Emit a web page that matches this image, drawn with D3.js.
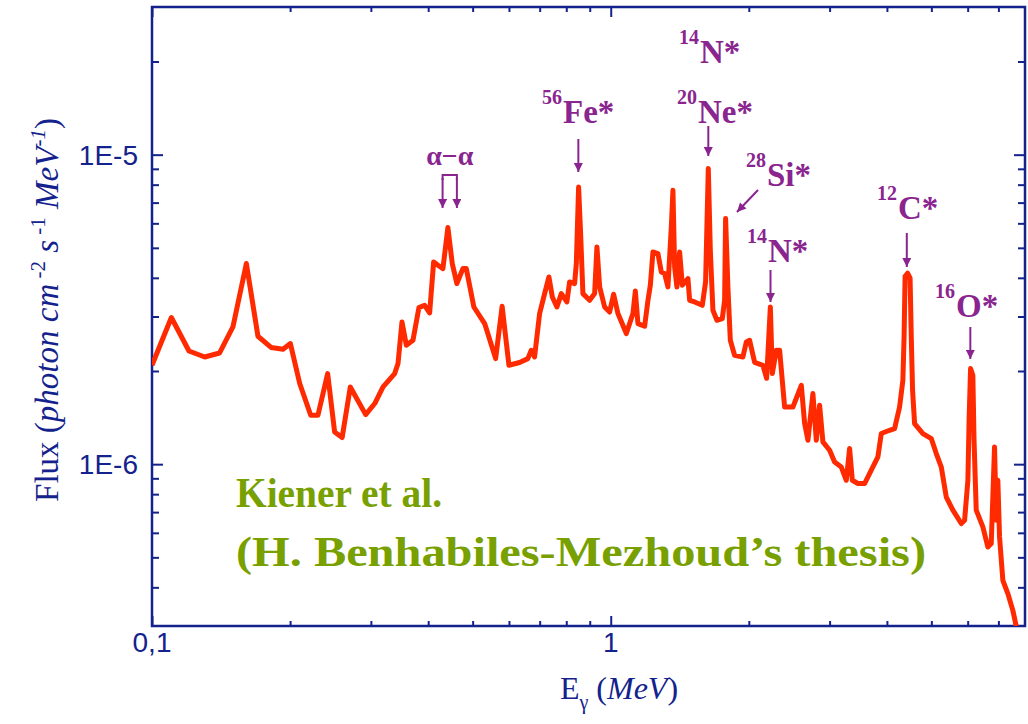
<!DOCTYPE html>
<html>
<head>
<meta charset="utf-8">
<script src="https://cdn.jsdelivr.net/npm/d3@7"></script>
<style>
  html, body { margin: 0; padding: 0; background: #ffffff; }
  svg { display: block; }
</style>
</head>
<body>
<svg id="chart" width="1028" height="724"></svg>
<script>
// Gamma-ray energy (MeV) of each sample of the spectrum
const energyMeV = [
  0.100, 0.1102, 0.1204, 0.1303, 0.1404, 0.1501, 0.1606, 0.1702, 0.1820, 0.1930,
  0.2003, 0.2099, 0.2218, 0.2300, 0.2415, 0.2501, 0.2597, 0.2706, 0.2923, 0.3059,
  0.3189, 0.3381, 0.3438, 0.3507, 0.3585, 0.3706, 0.3818, 0.3929, 0.4029, 0.4111,
  0.4201, 0.4307, 0.4416, 0.4514, 0.4620, 0.4761, 0.4843, 0.5031, 0.5311, 0.5612,
  0.5798, 0.5999, 0.6328, 0.6597, 0.6711, 0.6823, 0.6998, 0.7176, 0.7333, 0.7459,
  0.7633, 0.7803, 0.8025, 0.8135, 0.8342, 0.8414, 0.8511, 0.8597, 0.8697, 0.8995,
  0.9224, 0.9331, 0.9459, 0.9699, 0.9945, 1.0146, 1.0368, 1.0815, 1.1180, 1.1315,
  1.1464, 1.1856, 1.2055, 1.2200, 1.2359, 1.2673, 1.2891, 1.3107, 1.3326, 1.3555,
  1.3665, 1.3782, 1.3941, 1.4132, 1.4325, 1.4734, 1.4860, 1.5238, 1.5834, 1.6099,
  1.6319, 1.6485, 1.6703, 1.7041, 1.7507, 1.7713, 1.7800, 1.8006, 1.8227, 1.8621,
  1.9414, 1.9748, 2.0079, 2.0589, 2.1466, 2.1871, 2.2283, 2.2505, 2.2960, 2.3344,
  2.3936, 2.4955, 2.6031, 2.6467, 2.6909, 2.7590, 2.8064, 2.8534, 2.9011, 3.0002,
  3.0763, 3.1815, 3.2624, 3.3170, 3.3624, 3.4583, 3.5764, 3.6983, 3.8230, 3.8887,
  4.0542, 4.1572, 4.2628, 4.3341, 4.3601, 4.3822, 4.4371, 4.4935, 4.5205, 4.5499,
  4.5962, 4.7920, 4.9981, 5.1250, 5.2552, 5.3888, 5.5704, 5.8104, 5.9076, 6.0064,
  6.0425, 6.0872, 6.1577, 6.1944, 6.2632, 6.4743, 6.6389, 6.7530, 6.8153, 6.8657,
  6.9246, 6.9806, 7.0405, 7.1582, 7.3397, 7.5259, 7.6553
];

// Flux at each energy, in units of 1E-6 photon cm^-2 s^-1 MeV^-1
const fluxE6 = [
  2.087, 2.977, 2.321, 2.220, 2.287, 2.775, 4.448, 2.590, 2.381, 2.351,
  2.453, 1.822, 1.439, 1.439, 1.962, 1.271, 1.219, 1.776, 1.446, 1.570,
  1.776, 1.962, 2.114, 2.880, 2.422, 2.514, 3.206, 3.261, 3.080, 4.501,
  4.392, 4.285, 5.815, 4.448, 3.833, 4.285, 4.285, 3.220, 2.846, 2.193,
  3.237, 2.087, 2.130, 2.193, 2.333, 2.220, 3.066, 3.557, 4.026, 3.469,
  3.220, 3.557, 3.343, 3.879, 3.833, 4.448, 7.863, 5.561, 3.557, 3.385,
  3.557, 5.033, 3.738, 3.220, 3.102, 3.540, 3.066, 2.642, 3.066, 3.627,
  2.846, 2.790, 3.385, 3.785, 4.849, 4.792, 4.178, 4.129, 3.738, 5.840,
  7.674, 4.337, 3.738, 4.849, 3.785, 3.979, 3.385, 3.343, 3.261, 3.879,
  9.018, 4.911, 3.142, 2.917, 2.954, 3.385, 6.216, 3.738, 2.514, 2.248,
  2.220, 2.482, 2.514, 2.134, 2.087, 1.895, 3.220, 1.962, 2.333, 2.333,
  1.530, 1.530, 1.798, 1.353, 1.195, 1.691, 1.195, 1.550, 1.180, 1.109,
  1.016, 0.979, 0.887, 1.123, 0.887, 0.866, 0.866, 0.956, 1.055, 1.256,
  1.287, 1.303, 1.530, 1.867, 2.576, 4.047, 4.139, 3.988, 2.576, 1.733,
  1.353, 1.256, 1.210, 1.082, 0.979, 0.783, 0.710, 0.643, 0.659, 0.887,
  1.386, 2.037, 1.938, 1.195, 0.710, 0.627, 0.540, 0.554, 0.823, 1.137,
  0.659, 0.887, 0.582, 0.4215, 0.382, 0.337, 0.2995
];

// Axis ranges and ticks
const energyDomain = [0.1, 8];
const fluxDomain = [3e-7, 3e-5];
const energyMajorTicks = [0.1, 1];
const energyMajorLabels = ["0,1", "1"];
const energyMinorTicks = [0.2, 0.3, 0.4, 0.5, 0.6, 0.7, 0.8, 0.9, 2, 3, 4, 5, 6, 7];
const fluxMajorTicks = [1e-6, 1e-5];
const fluxMajorLabels = ["1E-6", "1E-5"];
const fluxMinorTicks = [4e-7, 5e-7, 6e-7, 7e-7, 8e-7, 9e-7,
  2e-6, 3e-6, 4e-6, 5e-6, 6e-6, 7e-6, 8e-6, 9e-6, 2e-5];

// Identified lines: isotope mass number, element, line energy (MeV)
const lineIsotopes = ["56", "14", "20", "28", "14", "12", "16"];
const lineElements = ["Fe*", "N*", "Ne*", "Si*", "N*", "C*", "O*"];
const lineEnergies = [0.850, 1.632, 1.632, 1.780, 2.230, 4.420, 6.080];
// alpha-alpha fusion lines (MeV)
const alphaEnergies = [0.430, 0.462];

const W = 1028, H = 724;
const plot = { left: 152, right: 1025, top: 7, bottom: 626 };
const AXIS = "#13228c";
const CURVE = "#ff2a00";
const LABEL = "#8a2590";
const NOTE = "#78a000";

const svg = d3.select("#chart");

const x = d3.scaleLog().domain(energyDomain).range([plot.left, plot.right]);
const y = d3.scaleLog().domain(fluxDomain).range([plot.bottom, plot.top]);

// arrowhead marker
svg.append("defs").append("marker")
  .attr("id", "head")
  .attr("viewBox", "0 0 10 10")
  .attr("refX", 10).attr("refY", 5)
  .attr("markerUnits", "userSpaceOnUse")
  .attr("markerWidth", 11).attr("markerHeight", 9)
  .attr("orient", "auto")
  .append("path").attr("d", "M0,0 L10,5 L0,10 Z").attr("fill", LABEL);

svg.select("defs").append("clipPath").attr("id", "plotClip")
  .append("rect")
  .attr("x", plot.left).attr("y", plot.top)
  .attr("width", plot.right - plot.left).attr("height", plot.bottom - plot.top);

// ticks on all four sides, pointing into the plot
function ticks(gen, tx, ty, values, size) {
  const g = svg.append("g")
    .attr("transform", `translate(${tx},${ty})`)
    .call(gen.tickValues(values).tickSize(-size).tickFormat(""));
  g.select(".domain").remove();
  g.selectAll(".tick line").attr("stroke", AXIS).attr("stroke-width", 2);
  g.selectAll(".tick text").remove();
}
ticks(d3.axisBottom(x), 0, plot.bottom, energyMinorTicks, 5);
ticks(d3.axisBottom(x), 0, plot.bottom, energyMajorTicks, 10);
ticks(d3.axisTop(x), 0, plot.top, energyMinorTicks, 5);
ticks(d3.axisTop(x), 0, plot.top, energyMajorTicks, 10);
ticks(d3.axisLeft(y), plot.left, 0, fluxMinorTicks, 7);
ticks(d3.axisLeft(y), plot.left, 0, fluxMajorTicks, 11);
ticks(d3.axisRight(y), plot.right, 0, fluxMinorTicks, 7);
ticks(d3.axisRight(y), plot.right, 0, fluxMajorTicks, 11);

// frame
svg.append("rect")
  .attr("x", plot.left).attr("y", plot.top)
  .attr("width", plot.right - plot.left).attr("height", plot.bottom - plot.top)
  .attr("fill", "none").attr("stroke", AXIS).attr("stroke-width", 2.5);

// tick labels
const tickFont = "'Liberation Sans', Arial, sans-serif";
svg.append("g").selectAll("text")
  .data(energyMajorTicks)
  .join("text")
  .attr("x", d => x(d)).attr("y", 652)
  .attr("text-anchor", "middle")
  .attr("font-family", tickFont).attr("font-size", 28)
  .attr("fill", AXIS)
  .text((d, i) => energyMajorLabels[i]);

svg.append("g").selectAll("text")
  .data(fluxMajorTicks)
  .join("text")
  .attr("x", 138).attr("y", d => y(d) + 10)
  .attr("text-anchor", "end")
  .attr("font-family", tickFont).attr("font-size", 28)
  .attr("fill", AXIS)
  .text((d, i) => fluxMajorLabels[i]);

// axis titles
const serif = "'Liberation Serif', 'Times New Roman', serif";
const yTitle = svg.append("text")
  .attr("transform", "translate(58,310) rotate(-90)")
  .attr("text-anchor", "middle")
  .attr("font-family", serif).attr("font-size", 33)
  .attr("fill", AXIS);
yTitle.append("tspan").text("Flux (");
yTitle.append("tspan").attr("font-style", "italic").text("photon cm");
yTitle.append("tspan").attr("font-size", 21).attr("dy", -13).text(" -2");
yTitle.append("tspan").attr("font-style", "italic").attr("dy", 13).text(" s");
yTitle.append("tspan").attr("font-size", 21).attr("dy", -13).text(" -1");
yTitle.append("tspan").attr("font-style", "italic").attr("dy", 13).text(" MeV");
yTitle.append("tspan").attr("font-size", 21).attr("font-style", "italic").attr("dy", -13).text("-1");
yTitle.append("tspan").attr("dy", 13).text(")");

const xTitle = svg.append("text")
  .attr("x", 619).attr("y", 699)
  .attr("text-anchor", "middle")
  .attr("font-family", serif).attr("font-size", 32)
  .attr("fill", AXIS);
xTitle.append("tspan").text("E");
xTitle.append("tspan").attr("font-size", 20).attr("dy", 10).text("γ");
xTitle.append("tspan").attr("dy", -10).text(" (");
xTitle.append("tspan").attr("font-style", "italic").text("MeV");
xTitle.append("tspan").text(")");

// spectrum
const spectrum = energyMeV.map((e, i) => ({ e, f: fluxE6[i] * 1e-6 }));
svg.append("path")
  .datum(spectrum)
  .attr("clip-path", "url(#plotClip)")
  .attr("fill", "none")
  .attr("stroke", CURVE)
  .attr("stroke-width", 5)
  .attr("stroke-linejoin", "round")
  .attr("d", d3.line().x(d => x(d.e)).y(d => y(d.f)));

// reference note
const note = svg.append("g")
  .attr("font-family", serif).attr("font-weight", "bold")
  .attr("font-size", 43).attr("fill", NOTE);
note.append("text").attr("x", 236).attr("y", 507)
  .attr("textLength", 206).attr("lengthAdjust", "spacingAndGlyphs")
  .text("Kiener et al.");
note.append("text").attr("x", 236).attr("y", 566)
  .attr("textLength", 690).attr("lengthAdjust", "spacingAndGlyphs")
  .text("(H. Benhabiles-Mezhoud’s thesis)");

// line identifications
const labelLayout = [
  { tx: 563, ty: 123, arrow: [[null, 139], [null, 172]] },
  { tx: 700, ty: 63, arrow: null },
  { tx: 698, ty: 123, arrow: [[null, 126], [null, 156]] },
  { tx: 767, ty: 186, arrow: [[758, 190], [737, 212]] },
  { tx: 768, ty: 262, arrow: [[null, 270], [null, 302]] },
  { tx: 898, ty: 219, arrow: [[null, 233], [null, 267]] },
  { tx: 956, ty: 317, arrow: [[null, 327], [null, 359]] }
];
const ann = svg.append("g")
  .attr("font-family", serif).attr("font-weight", "bold").attr("fill", LABEL);
lineElements.forEach((el, i) => {
  const L = labelLayout[i];
  ann.append("text").attr("x", L.tx).attr("y", L.ty)
    .attr("font-size", 33).text(el);
  ann.append("text").attr("x", L.tx - 1).attr("y", L.ty - 19)
    .attr("text-anchor", "end").attr("font-size", 20).text(lineIsotopes[i]);
  if (L.arrow) {
    const xe = x(lineEnergies[i]);
    const [p0, p1] = L.arrow;
    ann.append("line")
      .attr("x1", p0[0] == null ? xe : p0[0]).attr("y1", p0[1])
      .attr("x2", p1[0] == null ? xe : p1[0]).attr("y2", p1[1])
      .attr("stroke", LABEL).attr("stroke-width", 2)
      .attr("marker-end", "url(#head)");
  }
});

// alpha-alpha bracket
const xa = alphaEnergies.map(x);
ann.append("text").attr("x", (xa[0] + xa[1]) / 2).attr("y", 165)
  .attr("text-anchor", "middle").attr("font-size", 28).text("α−α");
ann.append("path")
  .attr("d", `M${xa[0]},180 L${xa[0]},175 L${xa[1]},175 L${xa[1]},180`)
  .attr("fill", "none").attr("stroke", LABEL).attr("stroke-width", 2);
xa.forEach(xv => {
  ann.append("line").attr("x1", xv).attr("y1", 178).attr("x2", xv).attr("y2", 208)
    .attr("stroke", LABEL).attr("stroke-width", 2)
    .attr("marker-end", "url(#head)");
});
</script>
</body>
</html>
